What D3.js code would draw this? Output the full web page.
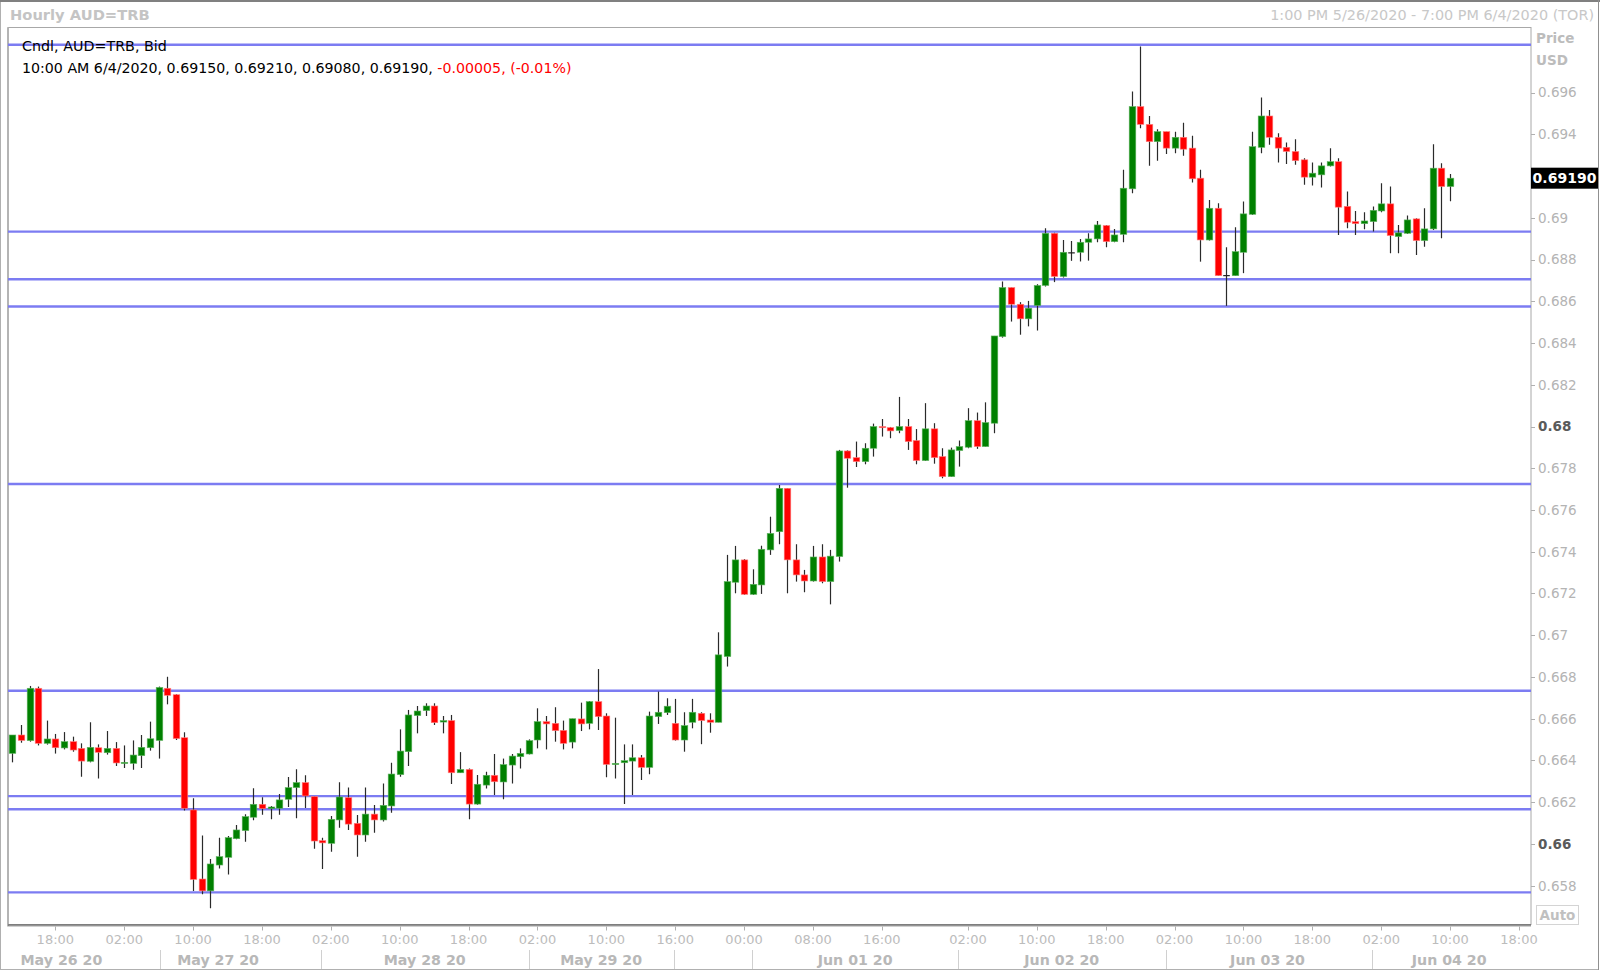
<!DOCTYPE html>
<html><head><meta charset="utf-8">
<script src="https://cdn.jsdelivr.net/npm/d3@7"></script>
<style>body{margin:0;background:#fff;overflow:hidden} svg{display:block}</style>
</head><body><svg id="c" width="1600" height="972"></svg>
<script>
// ---- DATA ----
const openP = [0.66434,0.66522,0.66495,0.66746,0.66482,0.66503,0.66460,0.66490,0.66458,0.66396,
0.66461,0.66437,0.66458,0.66389,0.66386,0.66423,0.66461,0.66496,0.66746,0.66715,
0.66509,0.66163,0.65832,0.65775,0.65899,0.65936,0.66025,0.66064,0.66128,0.66190,
0.66169,0.66171,0.66214,0.66270,0.66294,0.66227,0.66016,0.66003,0.66115,0.66222,
0.66099,0.66043,0.66143,0.66115,0.66182,0.66332,0.66442,0.66615,0.66639,0.66661,
0.66584,0.66591,0.66341,0.66357,0.66191,0.66282,0.66329,0.66297,0.66378,0.66418,
0.66431,0.66498,0.66586,0.66578,0.66544,0.66488,0.66599,0.66578,0.66682,0.66613,
0.66381,0.66389,0.66397,0.66413,0.66367,0.66610,0.66629,0.66578,0.66498,0.66583,
0.66626,0.66594,0.66583,0.66898,0.67254,0.67361,0.67196,0.67241,0.67409,0.67496,
0.67704,0.67361,0.67289,0.67260,0.67375,0.67257,0.67377,0.67883,0.67851,0.67832,
0.67896,0.68000,0.67995,0.67981,0.68000,0.67933,0.67837,0.67989,0.67856,0.67760,
0.67885,0.67901,0.68028,0.67904,0.68016,0.68431,0.68666,0.68586,0.68516,0.68580,
0.68676,0.68926,0.68719,0.68835,0.68835,0.68883,0.68899,0.68963,0.68886,0.68921,
0.69139,0.69533,0.69448,0.69365,0.69413,0.69334,0.69386,0.69334,0.69190,0.68894,
0.69046,0.68725,0.68723,0.68835,0.69017,0.69338,0.69488,0.69386,0.69338,0.69318,
0.69278,0.69195,0.69206,0.69249,0.69269,0.69055,0.68982,0.68972,0.68982,0.69033,
0.69067,0.68910,0.68926,0.68995,0.68891,0.68947,0.69238,0.69150];
const highP = [0.66522,0.66570,0.66757,0.66754,0.66591,0.66527,0.66536,0.66514,0.66482,0.66583,
0.66477,0.66541,0.66488,0.66472,0.66496,0.66522,0.66586,0.66754,0.66801,0.66718,
0.66535,0.66219,0.66040,0.65928,0.66030,0.66038,0.66091,0.66142,0.66267,0.66224,
0.66182,0.66239,0.66321,0.66358,0.66329,0.66227,0.66030,0.66134,0.66295,0.66271,
0.66139,0.66271,0.66187,0.66290,0.66389,0.66549,0.66642,0.66661,0.66674,0.66674,
0.66613,0.66618,0.66440,0.66361,0.66330,0.66346,0.66431,0.66409,0.66431,0.66458,
0.66501,0.66650,0.66613,0.66655,0.66591,0.66600,0.66677,0.66685,0.66838,0.66626,
0.66605,0.66477,0.66477,0.66426,0.66634,0.66730,0.66698,0.66695,0.66631,0.66695,
0.66631,0.66626,0.67014,0.67385,0.67428,0.67365,0.67316,0.67429,0.67568,0.67720,
0.67704,0.67436,0.67313,0.67428,0.67436,0.67409,0.67888,0.67886,0.67928,0.67920,
0.68014,0.68036,0.67998,0.68142,0.68036,0.67988,0.68112,0.68016,0.67896,0.67899,
0.67933,0.68088,0.68067,0.68116,0.68434,0.68695,0.68666,0.68596,0.68602,0.68682,
0.68950,0.68929,0.68894,0.68889,0.68899,0.68926,0.68985,0.68966,0.68947,0.69230,
0.69605,0.69821,0.69488,0.69424,0.69413,0.69413,0.69456,0.69393,0.69230,0.69086,
0.69070,0.68859,0.68955,0.69078,0.69413,0.69576,0.69517,0.69405,0.69361,0.69377,
0.69286,0.69265,0.69265,0.69333,0.69285,0.69126,0.69033,0.69027,0.69054,0.69166,
0.69150,0.68966,0.69011,0.68998,0.69046,0.69353,0.69262,0.69210];
const lowP = [0.66391,0.66485,0.66490,0.66472,0.66476,0.66433,0.66453,0.66442,0.66322,0.66391,
0.66313,0.66428,0.66373,0.66364,0.66356,0.66364,0.66447,0.66409,0.66669,0.66498,
0.66160,0.65775,0.65759,0.65692,0.65882,0.65853,0.66022,0.66011,0.66113,0.66140,
0.66118,0.66140,0.66177,0.66123,0.66172,0.65977,0.65880,0.65963,0.66078,0.66067,
0.65939,0.66011,0.66054,0.66107,0.66150,0.66322,0.66373,0.66530,0.66613,0.66570,
0.66530,0.66287,0.66341,0.66118,0.66188,0.66266,0.66234,0.66214,0.66290,0.66362,
0.66429,0.66458,0.66453,0.66490,0.66453,0.66458,0.66541,0.66549,0.66546,0.66319,
0.66314,0.66191,0.66235,0.66306,0.66334,0.66575,0.66618,0.66495,0.66442,0.66554,
0.66478,0.66533,0.66583,0.66850,0.67201,0.67193,0.67193,0.67198,0.67385,0.67436,
0.67201,0.67257,0.67206,0.67257,0.67249,0.67148,0.67353,0.67707,0.67806,0.67819,
0.67856,0.67952,0.67944,0.67968,0.67888,0.67819,0.67835,0.67822,0.67752,0.67759,
0.67808,0.67896,0.67893,0.67904,0.67968,0.68426,0.68503,0.68440,0.68480,0.68460,
0.68671,0.68692,0.68714,0.68794,0.68791,0.68795,0.68883,0.68859,0.68883,0.68883,
0.69118,0.69429,0.69249,0.69274,0.69306,0.69310,0.69297,0.69169,0.68790,0.68891,
0.68723,0.68578,0.68723,0.68735,0.69014,0.69310,0.69350,0.69265,0.69258,0.69254,
0.69158,0.69155,0.69145,0.69246,0.68918,0.68950,0.68918,0.68945,0.68934,0.69027,
0.68830,0.68830,0.68923,0.68822,0.68862,0.68942,0.68902,0.69080];
const closeP = [0.66522,0.66496,0.66746,0.66482,0.66503,0.66461,0.66490,0.66450,0.66397,0.66463,
0.66439,0.66458,0.66388,0.66391,0.66426,0.66463,0.66504,0.66750,0.66712,0.66505,
0.66171,0.65830,0.65775,0.65904,0.65939,0.66030,0.66067,0.66131,0.66190,0.66169,
0.66177,0.66211,0.66270,0.66294,0.66230,0.66014,0.66005,0.66118,0.66225,0.66095,
0.66043,0.66143,0.66115,0.66185,0.66335,0.66445,0.66618,0.66637,0.66661,0.66581,
0.66591,0.66341,0.66357,0.66191,0.66286,0.66329,0.66298,0.66380,0.66421,0.66434,
0.66495,0.66586,0.66575,0.66543,0.66482,0.66600,0.66575,0.66682,0.66610,0.66381,
0.66386,0.66399,0.66413,0.66367,0.66613,0.66631,0.66660,0.66498,0.66567,0.66631,
0.66591,0.66583,0.66906,0.67257,0.67361,0.67196,0.67244,0.67412,0.67488,0.67704,
0.67361,0.67289,0.67260,0.67375,0.67257,0.67379,0.67883,0.67848,0.67832,0.67896,
0.68000,0.67998,0.67979,0.68000,0.67928,0.67837,0.67989,0.67851,0.67760,0.67888,
0.67904,0.68028,0.67904,0.68019,0.68434,0.68666,0.68586,0.68516,0.68567,0.68676,
0.68926,0.68719,0.68835,0.68834,0.68883,0.68899,0.68966,0.68886,0.68918,0.69142,
0.69533,0.69448,0.69365,0.69413,0.69334,0.69386,0.69329,0.69187,0.68894,0.69046,
0.68723,0.68726,0.68838,0.69019,0.69341,0.69488,0.69386,0.69334,0.69318,0.69274,
0.69195,0.69214,0.69249,0.69269,0.69051,0.68979,0.68972,0.68985,0.69036,0.69067,
0.68915,0.68928,0.68990,0.68891,0.68947,0.69238,0.69150,0.69190];
const levelLines = [0.69829,0.68934,0.68706,0.68575,0.67725,0.66734,0.66229,0.66166,0.65768];
const yTickValues = [0.658,0.660,0.662,0.664,0.666,0.668,0.670,0.672,0.674,0.676,0.678,0.680,0.682,0.684,0.686,0.688,0.690,0.692,0.694,0.696];
const yTickBold = [0.660,0.680];
const timeTickIdx = [5,13,21,29,37,45,53,61,69,77,85,93,101,111,119,127,135,143,151,159,167,175];
const timeTickLabels = ["18:00","02:00","10:00","18:00","02:00","10:00","18:00","02:00","10:00","16:00","00:00","08:00","16:00","02:00","10:00","18:00","02:00","10:00","18:00","02:00","10:00","18:00"];
const dateLabels = ["May 26 20","May 27 20","May 28 20","May 29 20","Jun 01 20","Jun 02 20","Jun 03 20","Jun 04 20"];
const dateLabelIdx = [5.7,23.9,47.9,68.4,97.9,121.9,145.8,166.9];
const dateSepIdx = [17.2,35.9,60.0,76.9,85.9,109.9,134.0,157.9];
const lastPrice = 0.69190;
const titleLeft = "Hourly AUD=TRB";
const titleRight = "1:00 PM 5/26/2020 - 7:00 PM 6/4/2020 (TOR)";
const legend1 = "Cndl, AUD=TRB, Bid";
const legend2a = "10:00 AM 6/4/2020, 0.69150, 0.69210, 0.69080, 0.69190, ";
const legend2b = "-0.00005, (-0.01%)";

// ---- LAYOUT ----
const L = 8, R = 1531, T = 27.5, B = 924.5;
const FONT = "'DejaVu Sans', Verdana, sans-serif";
const svg = d3.select("#c");
const x = d3.scaleLinear().domain([-0.5, 176.4]).range([L, R]);
const y = d3.scaleLinear().domain([0.65614, 0.69912]).range([B, T]);

svg.append("rect").attr("width",1600).attr("height",972).attr("fill","#fff");
// outer frame
svg.append("rect").attr("x",0.5).attr("y",0.5).attr("width",1598).attr("height",969)
  .attr("fill","none").attr("stroke","#b0b0b0");
svg.append("line").attr("x1",0).attr("x2",1600).attr("y1",1).attr("y2",1).attr("stroke","#808080").attr("stroke-width",2);
svg.append("line").attr("x1",1598.5).attr("x2",1598.5).attr("y1",0).attr("y2",970).attr("stroke","#909090");

// titles
svg.append("text").attr("x",10).attr("y",20).attr("font-family",FONT).attr("font-weight","bold")
  .attr("font-size",14.7).attr("fill","#c4c4c4").text(titleLeft);
svg.append("text").attr("x",1594).attr("y",20).attr("text-anchor","end").attr("font-family",FONT)
  .attr("font-size",14.4).attr("fill","#c8c8c8").text(titleRight);

// plot frame
svg.append("rect").attr("x",L).attr("y",T).attr("width",R-L).attr("height",B-T)
  .attr("fill","#fff").attr("stroke","#a8a8a8");
svg.append("line").attr("x1",L).attr("x2",L).attr("y1",T).attr("y2",B+2).attr("stroke","#b4b4b4").attr("stroke-width",2);
svg.append("line").attr("x1",L).attr("x2",R).attr("y1",B+0.5).attr("y2",B+0.5).attr("stroke","#707070").attr("stroke-width",1.5);
svg.append("line").attr("x1",L).attr("x2",R).attr("y1",B+2).attr("y2",B+2).attr("stroke","#d0d0d0").attr("stroke-width",1);

svg.append("defs").append("clipPath").attr("id","clip").append("rect")
  .attr("x",L).attr("y",T).attr("width",R-L).attr("height",B-T);
const plot = svg.append("g").attr("clip-path","url(#clip)");

// level lines
plot.selectAll("line.lvl").data(levelLines).join("line").attr("class","lvl")
  .attr("x1",L).attr("x2",R).attr("y1",d=>y(d)).attr("y2",d=>y(d))
  .attr("stroke","#7c7cf2").attr("stroke-width",2.4);

// candles
const candles = d3.range(openP.length).map(i=>({i,o:openP[i],h:highP[i],l:lowP[i],c:closeP[i]}));
const bw = 6.6;
const cg = plot.append("g");
cg.selectAll("line.wick").data(candles).join("line").attr("class","wick")
  .attr("x1",d=>Math.round(x(d.i))+0.5).attr("x2",d=>Math.round(x(d.i))+0.5)
  .attr("y1",d=>y(d.h)).attr("y2",d=>y(d.l)).attr("stroke","#2a2a2a").attr("stroke-width",1.2);
cg.selectAll("rect.body").data(candles).join("rect").attr("class","body")
  .attr("x",d=>Math.round(x(d.i))+0.5-bw/2).attr("width",bw)
  .attr("y",d=>y(Math.max(d.o,d.c)))
  .attr("height",d=>Math.max(1.2, Math.abs(y(d.o)-y(d.c))))
  .attr("fill",d=> Math.abs(d.c-d.o)<0.000015 ? "#222" : (d.c>d.o ? "#008000" : "#ff0000"))
  .attr("stroke",d=> Math.abs(d.c-d.o)<0.000015 ? "none" : (d.c>d.o ? "#5fb35f" : "#ff7f7f"))
  .attr("stroke-width",0.6);

// legend
svg.append("text").attr("x",22).attr("y",51).attr("font-family",FONT).attr("font-size",14.3)
  .attr("fill","#000").text(legend1);
const lg = svg.append("text").attr("x",22).attr("y",73).attr("font-family",FONT).attr("font-size",14.2);
lg.append("tspan").attr("fill","#000").text(legend2a);
lg.append("tspan").attr("fill","#ff0000").text(legend2b);

// right axis
const isBold = d => yTickBold.some(b=>Math.abs(b-d)<1e-9);
const ya = svg.append("g");
ya.selectAll("line").data(yTickValues).join("line")
  .attr("x1",R).attr("x2",R+4).attr("y1",d=>Math.round(y(d))+0.5).attr("y2",d=>Math.round(y(d))+0.5)
  .attr("stroke","#b0b0b0");
ya.selectAll("text").data(yTickValues.filter(d=>Math.abs(y(d)-y(lastPrice))>13)).join("text")
  .attr("x",R+7).attr("y",d=>y(d)).attr("dy","0.36em")
  .attr("font-family",FONT).attr("font-size",13.5)
  .attr("font-weight",d=>isBold(d)?"bold":"normal")
  .attr("fill",d=>isBold(d)?"#5a5a5a":"#b4b4b4")
  .text(d=>String(+d.toFixed(3)));
svg.append("text").attr("x",R+5).attr("y",43).attr("font-family",FONT).attr("font-weight","bold")
  .attr("font-size",13.5).attr("fill","#bcbcbc").text("Price");
svg.append("text").attr("x",R+5).attr("y",65).attr("font-family",FONT).attr("font-weight","bold")
  .attr("font-size",13.5).attr("fill","#bcbcbc").text("USD");
// last price box
svg.append("rect").attr("x",R).attr("y",y(lastPrice)-10.5).attr("width",67).attr("height",21).attr("fill","#000");
svg.append("text").attr("x",R+33.5).attr("y",y(lastPrice)).attr("dy","0.36em").attr("text-anchor","middle")
  .attr("font-family",FONT).attr("font-weight","bold").attr("font-size",14).attr("fill","#fff")
  .text(lastPrice.toFixed(5));
// Auto
svg.append("rect").attr("x",R+5.5).attr("y",905.5).attr("width",42).attr("height",19)
  .attr("fill","#fff").attr("stroke","#d4d4d4");
svg.append("text").attr("x",R+26.5).attr("y",915).attr("dy","0.36em").attr("text-anchor","middle")
  .attr("font-family",FONT).attr("font-weight","bold").attr("font-size",13.5).attr("fill","#c0c0c0").text("Auto");

// bottom axis
const xa = svg.append("g");
xa.selectAll("line").data(timeTickIdx).join("line")
  .attr("x1",d=>Math.round(x(d))+0.5).attr("x2",d=>Math.round(x(d))+0.5)
  .attr("y1",B+2).attr("y2",B+6).attr("stroke","#b0b0b0");
xa.selectAll("text").data(timeTickIdx).join("text")
  .attr("x",d=>x(d)).attr("y",939).attr("dy","0.36em").attr("text-anchor","middle")
  .attr("font-family",FONT).attr("font-size",13).attr("fill","#bcbcbc")
  .text((d,i)=>timeTickLabels[i]);
const da = svg.append("g");
da.selectAll("line").data(dateSepIdx).join("line")
  .attr("x1",d=>Math.round(x(d))+0.5).attr("x2",d=>Math.round(x(d))+0.5)
  .attr("y1",950).attr("y2",969).attr("stroke","#d0d0d0");
da.selectAll("text").data(dateLabelIdx).join("text")
  .attr("x",d=>x(d)).attr("y",959.5).attr("dy","0.36em").attr("text-anchor","middle")
  .attr("font-family",FONT).attr("font-weight","bold").attr("font-size",14.2).attr("fill","#b8b8b8")
  .text((d,i)=>dateLabels[i]);
</script></body></html>
